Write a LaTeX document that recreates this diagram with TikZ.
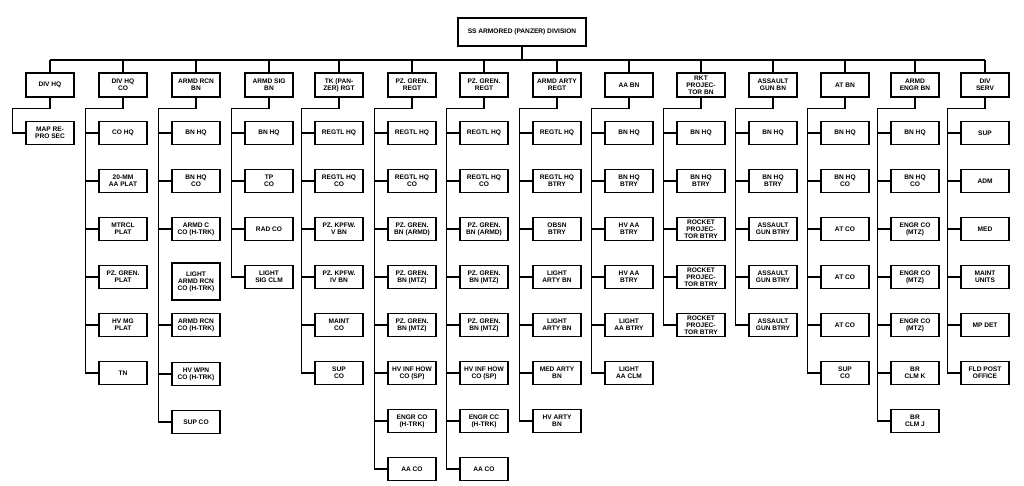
\documentclass[tikz,border=0pt]{standalone}
\usepackage{fontspec}
\setmainfont{Liberation Sans}
\usetikzlibrary{calc}
\tikzset{
  lbl/.style={font=\fontsize{6.6}{7}\selectfont\bfseries, align=center, inner sep=1pt},
  box/.style={lbl, draw, line width=1.2pt, minimum width=48pt, minimum height=23pt},
  topbox/.style={box, minimum height=24pt},
  headbox/.style={box, line width=1.5pt, minimum width=128pt, minimum height=28pt},
  conn/.style={line width=1.1pt}
}
\newcommand\orgcol[5]{%
  \node[topbox] (#1) at (#2,85) {#3};
  \draw[conn] (#1.north) -- (#1.north |- busL);
  \coordinate (#1e) at ($(#1.south west)+(-12.5,11)$);
  \foreach \lab [count=\r] in {#4} {
    \node[box] (#1r\r) at (#2,{133+48*(\r-1)}) {\lab};
    \draw[conn] (#1r\r.west) -- (#1r\r.west -| #1e);
  }
  \draw[conn] (#1.south) |- (#1e) |- (#1r#5.west);
}
\begin{document}
\begin{tikzpicture}[x=1pt,y=-1pt]
\useasboundingbox (0,0) rectangle (1024,486);
\coordinate (busL) at (50,60);
\coordinate (busR) at (985,60);
\draw[conn] (busL) -- (busR);
\node[headbox] (div) at (522,32) {SS ARMORED (PANZER) DIVISION};
\draw[conn] (div.south) -- (div.south |- busL);

\orgcol{c1}{50}{DIV HQ}{{MAP RE-\\PRO SEC}}{1}
\orgcol{c2}{123}{DIV HQ\\CO}{{CO HQ},{20-MM\\AA PLAT},{MTRCL\\PLAT},{PZ. GREN.\\PLAT},{HV MG\\PLAT},{TN}}{6}

% column 3 (one box without connector)
\node[topbox] (c3) at (196,85) {ARMD RCN\\BN};
\draw[conn] (c3.north) -- (c3.north |- busL);
\coordinate (c3e) at ($(c3.south west)+(-12.5,11)$);
\node[box] (c3r1) at (196,133) {BN HQ};
\node[box] (c3r2) at (196,181) {BN HQ\\CO};
\node[box] (c3r3) at (196,229) {ARMD C\\CO (H-TRK)};
\node[box, minimum height=37pt] (c3r4) at (196,281.5) {LIGHT\\ARMD RCN\\CO (H-TRK)};
\node[box] (c3r5) at (196,325) {ARMD RCN\\CO (H-TRK)};
\node[box] (c3r6) at (196,374) {HV WPN\\CO (H-TRK)};
\node[box] (c3r7) at (196,422) {SUP CO};
\foreach \r in {1,2,3,5,6} {\draw[conn] (c3r\r.west) -- (c3r\r.west -| c3e);}
\draw[conn] (c3.south) |- (c3e) |- (c3r7.west);

\orgcol{c4}{269}{ARMD SIG\\BN}{{BN HQ},{TP\\CO},{RAD CO},{LIGHT\\SIG CLM}}{4}
\orgcol{c5}{339}{TK (PAN-\\ZER) RGT}{{REGTL HQ},{REGTL HQ\\CO},{PZ. KPFW.\\V BN},{PZ. KPFW.\\IV BN},{MAINT\\CO},{SUP\\CO}}{6}
\orgcol{c6}{412}{PZ. GREN.\\REGT}{{REGTL HQ},{REGTL HQ\\CO},{PZ. GREN.\\BN (ARMD)},{PZ. GREN.\\BN (MTZ)},{PZ. GREN.\\BN (MTZ)},{HV INF HOW\\CO (SP)},{ENGR CO\\(H-TRK)},{AA CO}}{8}
\orgcol{c7}{484}{PZ. GREN.\\REGT}{{REGTL HQ},{REGTL HQ\\CO},{PZ. GREN.\\BN (ARMD)},{PZ. GREN.\\BN (MTZ)},{PZ. GREN.\\BN (MTZ)},{HV INF HOW\\CO (SP)},{ENGR CC\\(H-TRK)},{AA CO}}{8}
\orgcol{c8}{557}{ARMD ARTY\\REGT}{{REGTL HQ},{REGTL HQ\\BTRY},{OBSN\\BTRY},{LIGHT\\ARTY BN},{LIGHT\\ARTY BN},{MED ARTY\\BN},{HV ARTY\\BN}}{7}
\orgcol{c9}{629}{AA BN}{{BN HQ},{BN HQ\\BTRY},{HV AA\\BTRY},{HV AA\\BTRY},{LIGHT\\AA BTRY},{LIGHT\\AA CLM}}{6}
\orgcol{c10}{701}{RKT\\PROJEC-\\TOR BN}{{BN HQ},{BN HQ\\BTRY},{ROCKET\\PROJEC-\\TOR BTRY},{ROCKET\\PROJEC-\\TOR BTRY},{ROCKET\\PROJEC-\\TOR BTRY}}{5}
\orgcol{c11}{773}{ASSAULT\\GUN BN}{{BN HQ},{BN HQ\\BTRY},{ASSAULT\\GUN BTRY},{ASSAULT\\GUN BTRY},{ASSAULT\\GUN BTRY}}{5}
\orgcol{c12}{845}{AT BN}{{BN HQ},{BN HQ\\CO},{AT CO},{AT CO},{AT CO},{SUP\\CO}}{6}
\orgcol{c13}{915}{ARMD\\ENGR BN}{{BN HQ},{BN HQ\\CO},{ENGR CO\\(MTZ)},{ENGR CO\\(MTZ)},{ENGR CO\\(MTZ)},{BR\\CLM K},{BR\\CLM J}}{7}
\orgcol{c14}{985}{DIV\\SERV}{{SUP},{ADM},{MED},{MAINT\\UNITS},{MP DET},{FLD POST\\OFFICE}}{6}
\end{tikzpicture}
\end{document}
